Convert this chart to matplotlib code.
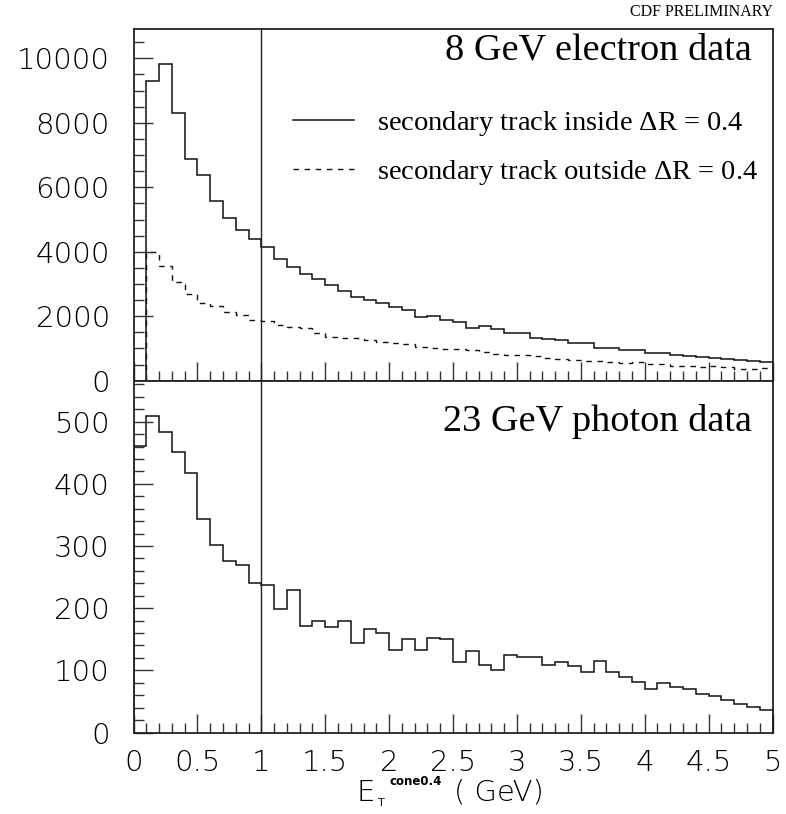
import numpy as np
import matplotlib
matplotlib.use("Agg")
import matplotlib.pyplot as plt
from matplotlib.ticker import MultipleLocator, FixedLocator

# ---------------- data ----------------
top_edges = np.round(np.arange(0.1, 5.0001, 0.1), 2)      # 49 bins 0.1 .. 5.0
bot_edges = np.round(np.arange(0.0, 5.0001, 0.1), 2)      # 50 bins 0.0 .. 5.0

electron_inside = [9295, 9833, 8312, 6885, 6388, 5561, 5054, 4671, 4392, 4154,
                   3781, 3533, 3316, 3140, 2964, 2788, 2602, 2498, 2416, 2292,
                   2188, 1961, 2002, 1878, 1826, 1620, 1692, 1589, 1480, 1495,
                   1330, 1278, 1247, 1174, 1165, 1029, 1020, 946, 940, 874,
                   868, 812, 760, 739, 708, 677, 636, 615, 595]
electron_outside = [3998, 3563, 3067, 2685, 2395, 2323, 2116, 2043, 1878, 1847,
                    1723, 1671, 1620, 1485, 1340, 1330, 1309, 1257, 1185, 1154,
                    1123, 1050, 1029, 998, 990, 946, 895, 843, 810, 792,
                    760, 719, 677, 636, 625, 615, 595, 543, 574, 533,
                    512, 471, 450, 440, 450, 419, 378, 378, 398]
photon = [461, 509, 484, 451, 417, 343, 301, 276, 270, 240,
          237, 199, 230, 172, 180, 170, 179, 144, 166, 160,
          132, 150, 132, 152, 150, 114, 131, 109, 101, 124,
          121, 122, 108, 113, 107, 98, 115, 98, 90, 82,
          70, 80, 73, 70, 62, 58, 52, 46, 41, 37]

top_yticks = [0, 2000, 4000, 6000, 8000, 10000]
bot_yticks = [0, 100, 200, 300, 400, 500]
xticks = [0, 0.5, 1, 1.5, 2, 2.5, 3, 3.5, 4, 4.5, 5]
xtick_labels = ["0", "0.5", "1", "1.5", "2", "2.5", "3", "3.5", "4", "4.5", "5"]

# ---------------- figure ----------------
W, H = 786, 814
fig = plt.figure(figsize=(W / 100, H / 100), dpi=100)
L, R = 133.5 / W, 772.5 / W
ax1 = fig.add_axes([L, 1 - 380.7 / H, R - L, (380.7 - 29) / H])
ax2 = fig.add_axes([L, 1 - 732.5 / H, R - L, (732.5 - 380.7) / H])

tickfont = dict(family="DejaVu Sans", size=21, weight="light")
serif = "Liberation Serif"

for ax in (ax1, ax2):
    ax.set_xlim(0, 5)
    for s in ax.spines.values():
        s.set_linewidth(1.3)
        s.set_color("#222222")
    ax.xaxis.set_major_locator(MultipleLocator(0.5))
    ax.xaxis.set_minor_locator(MultipleLocator(0.1))
    ax.tick_params(which="both", direction="in", top=False, right=False,
                   color="#333333", width=1.0)
    ax.tick_params(which="major", length=14)
    ax.tick_params(which="minor", length=7)
    ax.axvline(1.0, color="#222222", lw=1.0)

# top panel
ax1.stairs(electron_inside, top_edges, color="#111111", lw=1.1,
           label="secondary track inside $\\mathregular{\\Delta}$R = 0.4")
ax1.stairs(electron_outside, top_edges, color="#111111", lw=1.0,
           linestyle=(0, (4, 4)),
           label="secondary track outside $\\mathregular{\\Delta}$R = 0.4")
ax1.set_ylim(0, 10909)
ax1.yaxis.set_major_locator(FixedLocator(top_yticks))
ax1.yaxis.set_minor_locator(MultipleLocator(500))
ax1.set_yticklabels([str(v) for v in top_yticks], fontdict=tickfont)
ax1.tick_params(axis="y", pad=17)
ax1.tick_params(axis="x", labelbottom=False)

ax1.text(0.968, 0.94, "8 GeV electron data", transform=ax1.transAxes,
         ha="right", va="center", fontsize=27.5, family=serif)
leg = ax1.legend(loc="upper left", bbox_to_anchor=(0.2496, 0.772), frameon=False,
                 prop=dict(family=serif, size=20.5), handlelength=2.15,
                 handletextpad=0.8, labelspacing=0.68, borderaxespad=0,
                 borderpad=0)
fig.text(R, 1 - 12 / H, "CDF PRELIMINARY", ha="right", va="center",
         fontsize=11.5, family=serif)

# bottom panel
ax2.stairs(photon, bot_edges, color="#111111", lw=1.1)
ax2.set_ylim(0, 566)
ax2.yaxis.set_major_locator(FixedLocator(bot_yticks))
ax2.yaxis.set_minor_locator(MultipleLocator(20))
ax2.set_yticklabels([str(v) for v in bot_yticks], fontdict=tickfont)
ax2.tick_params(axis="y", pad=17)
ax2.set_xticks(xticks)
ax2.set_xticklabels(xtick_labels, fontdict=tickfont)
ax2.tick_params(axis="x", pad=12)
ax2.text(0.968, 0.885, "23 GeV photon data", transform=ax2.transAxes,
         ha="right", va="center", fontsize=27.5, family=serif)

# x axis title built from pieces: E, subscript T, superscript cone0.4, ( GeV)
def px(x, y):
    return x / W, 1 - y / H

fig.text(*px(357, 801), "E", ha="left", va="baseline", fontsize=21,
         family="DejaVu Sans", weight="light")
fig.text(*px(378, 806), "T", ha="left", va="baseline", fontsize=8,
         family="DejaVu Sans")
fig.text(*px(390, 785), "cone0.4", ha="left", va="baseline", fontsize=8.5,
         family="DejaVu Sans", weight="bold")
fig.text(*px(454, 801), "( GeV)", ha="left", va="baseline", fontsize=21,
         family="DejaVu Sans", weight="light")

fig.savefig("out.png", dpi=100)
